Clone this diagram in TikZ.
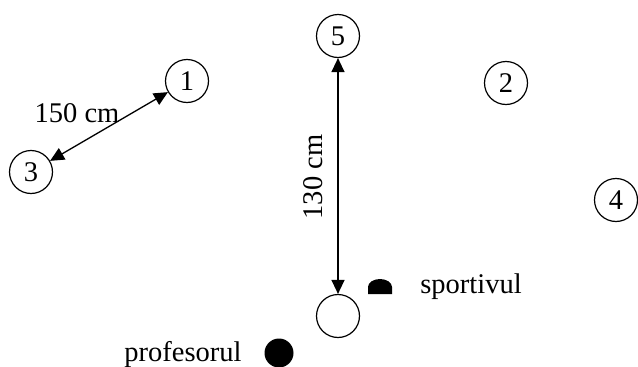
\documentclass[tikz,border=0pt]{standalone}
\usepackage{fontspec}
\setmainfont{Liberation Serif}
\usetikzlibrary{arrows.meta}
\begin{document}
\begin{tikzpicture}[x=1pt,y=-1pt,
  txt/.style={font=\fontsize{28.5}{30}\selectfont, inner sep=0pt},
  spot/.style={circle, draw, line width=1.2pt, minimum size=43pt, inner sep=0pt, font=\fontsize{28.5}{30}\selectfont},
  dist/.style={line width=1.3pt, {Triangle[length=14pt,width=13pt]}-{Triangle[length=14pt,width=13pt]}}]
  \useasboundingbox (0,0) rectangle (638,367);
  % numbered positions
  \node[spot] (p1) at (187,81) {1};
  \node[spot] (p2) at (506,83) {2};
  \node[spot] (p3) at (31,172) {3};
  \node[spot] (p4) at (616,200) {4};
  \node[spot] (p5) at (338,36) {5};
  \node[spot] (p0) at (338,316) {};
  % distances
  \draw[dist] (p3) -- (p1);
  \draw[dist] (p5) -- (p0);
  \node[txt] (d1) at (77,113) {150 cm};
  \node[txt, rotate=90] (d2) at (313,177) {130 cm};
  % athlete marker
  \fill (368,294) -- (368,287) arc[start angle=180, end angle=0, x radius=12pt, y radius=8pt] -- (392,294) -- cycle;
  \coordinate (ath) at (380,287);
  \node[txt] (lsp) at (471,287) {sportivul};
  % teacher marker
  \node[circle, fill, minimum size=29pt, inner sep=0pt] (prof) at (279,353) {};
  \node[txt] (lpr) at (183,354) {profesorul};
\end{tikzpicture}
\end{document}
